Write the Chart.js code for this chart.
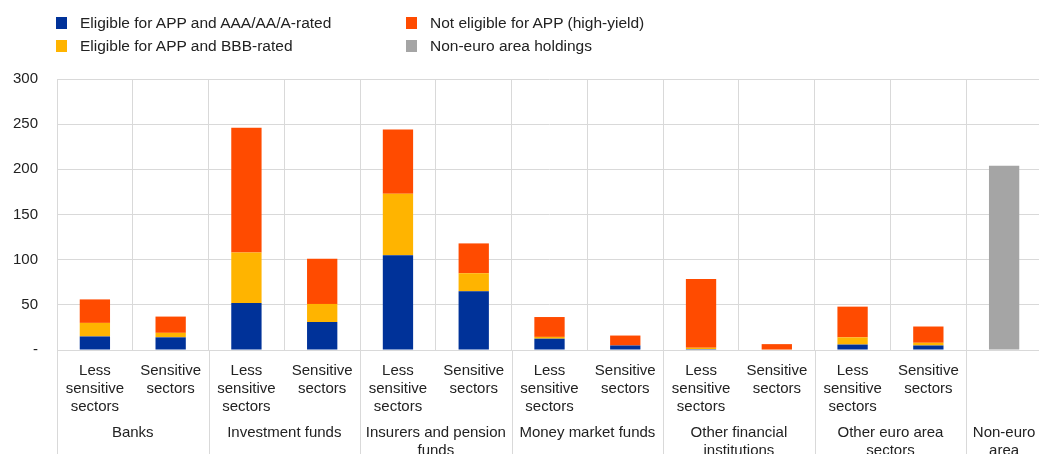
<!DOCTYPE html>
<html>
<head>
<meta charset="utf-8">
<script src="https://cdn.jsdelivr.net/npm/chart.js@4/dist/chart.umd.min.js"></script>
<style>
  html, body { margin: 0; padding: 0; background: #fff; overflow: hidden; }
  body { width: 1039px; height: 454px; position: relative; font-family: "Liberation Sans", Arial, sans-serif; color: #222; }
  #wrap { position: absolute; left: 0; top: 0; width: 1044px; height: 454px; }
  .legend { position: absolute; top: 14px; left: 56px; display: grid; grid-template-columns: 350px 300px; row-gap: 5px; font-size: 15.5px; }
  .legend span { display: flex; align-items: center; height: 18px; }
  .legend i { display: inline-block; width: 11px; height: 12px; margin-right: 13px; }
</style>
</head>
<body>
<div id="wrap"><canvas id="chart"></canvas></div>
<div class="legend" id="legend"></div>
<script>
// -- DATA ----------------------------------------------
const SECTORS = [
  ["Less", "sensitive", "sectors"], ["Sensitive", "sectors"],
  ["Less", "sensitive", "sectors"], ["Sensitive", "sectors"],
  ["Less", "sensitive", "sectors"], ["Sensitive", "sectors"],
  ["Less", "sensitive", "sectors"], ["Sensitive", "sectors"],
  ["Less", "sensitive", "sectors"], ["Sensitive", "sectors"],
  ["Less", "sensitive", "sectors"], ["Sensitive", "sectors"],
  ""
];
const GROUPS = [
  ["Banks"], ["Investment funds"], ["Insurers and pension", "funds"],
  ["Money market funds"], ["Other financial", "institutions"],
  ["Other euro area", "sectors"], ["Non-euro", "area"]
];
const GROUP_SIZES = [2, 2, 2, 2, 2, 2, 1];

const AAA_RATED = [15, 14, 52, 31, 105, 65, 12.5, 5, 1, 0, 6, 5, 0];
const BBB_RATED = [15, 5, 56, 20, 68, 20, 2, 0, 1.5, 0.5, 8, 3, 0];
const HIGH_YIELD = [26, 18, 138, 50, 71, 33, 22, 11, 76, 6, 34, 18, 0];
const NON_EURO = [0, 0, 0, 0, 0, 0, 0, 0, 0, 0, 0, 0, 204];

const Y_TICKS = [0, 50, 100, 150, 200, 250, 300];

const TEXT = "#222222";
const GRID = "#d9d9d9";
const FONT = { family: "'Liberation Sans', Arial, sans-serif", size: 15 };

const SERIES = [
  { label: "Eligible for APP and AAA/AA/A-rated", data: AAA_RATED, color: "#003299" },
  { label: "Eligible for APP and BBB-rated", data: BBB_RATED, color: "#ffb400" },
  { label: "Not eligible for APP (high-yield)", data: HIGH_YIELD, color: "#ff4b00" },
  { label: "Non-euro area holdings", data: NON_EURO, color: "#a5a5a5" }
];

// -- LEGEND --------------------------------------------
const legendOrder = [0, 2, 1, 3];
document.getElementById("legend").innerHTML = legendOrder
  .map((i) => `<span><i style="background:${SERIES[i].color}"></i>${SERIES[i].label}</span>`)
  .join("");

// -- GROUP AXIS PLUGIN ---------------------------------
const groupAxis = {
  id: "groupAxis",
  afterDraw(chart) {
    const { ctx, chartArea } = chart;
    const x = chart.scales.x;
    const half = (x.getPixelForValue(1) - x.getPixelForValue(0)) / 2;
    const bottom = chart.height;
    ctx.save();
    ctx.strokeStyle = GRID;
    ctx.lineWidth = 1;
    ctx.fillStyle = TEXT;
    ctx.font = `${FONT.size}px ${FONT.family}`;
    ctx.textAlign = "center";
    ctx.textBaseline = "middle";
    let start = 0;
    GROUP_SIZES.forEach((size, g) => {
      const left = x.getPixelForValue(start) - half;
      const right = x.getPixelForValue(start + size - 1) + half;
      [left, right].forEach((px) => {
        const p = Math.round(px) + 0.5;
        ctx.beginPath();
        ctx.moveTo(p, chartArea.bottom);
        ctx.lineTo(p, bottom);
        ctx.stroke();
      });
      GROUPS[g].forEach((line, k) => {
        ctx.fillText(line, (left + right) / 2, 433 + k * 18);
      });
      start += size;
    });
    ctx.restore();
  }
};

// -- RENDER --------------------------------------------
new Chart(document.getElementById("chart"), {
  type: "bar",
  data: {
    labels: SECTORS,
    datasets: SERIES.map((s) => ({
      label: s.label,
      data: s.data,
      backgroundColor: s.color,
      borderWidth: 0,
      barPercentage: 0.8,
      categoryPercentage: 0.5
    }))
  },
  options: {
    responsive: true,
    maintainAspectRatio: false,
    animation: false,
    layout: { padding: { top: 79, right: 2, left: 0, bottom: 0 } },
    plugins: {
      legend: { display: false },
      tooltip: { enabled: false }
    },
    scales: {
      x: {
        stacked: true,
        offset: true,
        grid: { color: GRID, offset: true, drawTicks: false },
        border: { color: GRID },
        ticks: {
          color: TEXT,
          font: { ...FONT, lineHeight: 1.2 },
          padding: 12,
          autoSkip: false,
          maxRotation: 0
        },
        afterFit(scale) { scale.height = 104; }
      },
      y: {
        stacked: true,
        min: 0,
        max: 300,
        afterBuildTicks(scale) { scale.ticks = Y_TICKS.map((v) => ({ value: v })); },
        grid: { color: GRID, drawTicks: false },
        border: { display: false },
        ticks: {
          color: TEXT,
          font: FONT,
          padding: 19,
          callback: (v) => (v === 0 ? "-" : v)
        },
        afterFit(scale) { scale.width = 57; }
      }
    }
  },
  plugins: [groupAxis]
});
</script>
</body>
</html>
